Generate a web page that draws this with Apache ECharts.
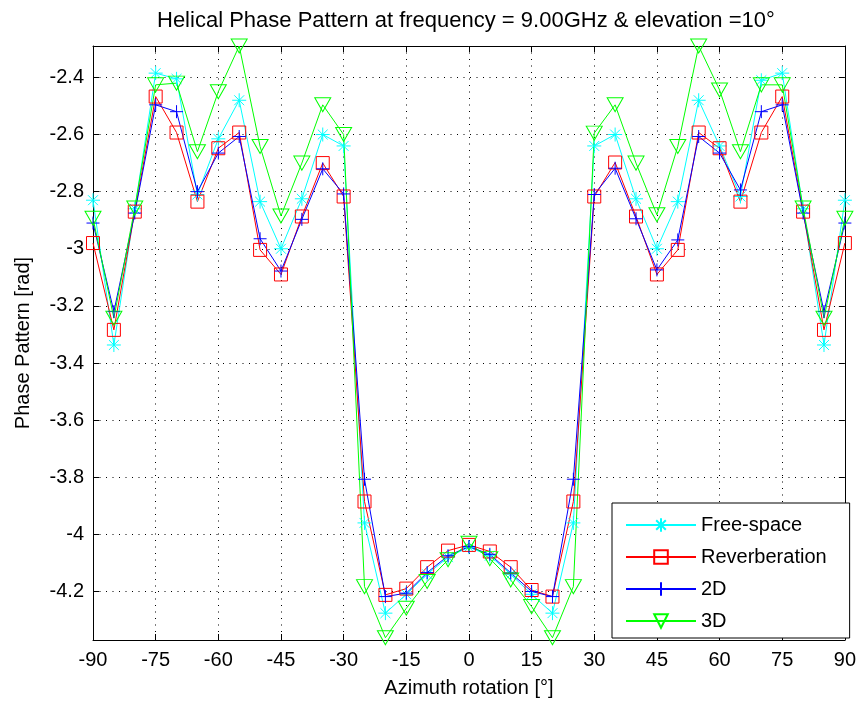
<!DOCTYPE html>
<html>
<head>
<meta charset="utf-8">
<script src="https://cdn.jsdelivr.net/npm/echarts@6/dist/echarts.min.js"></script>
<style>
  html, body { margin: 0; padding: 0; background: #ffffff; }
  #chart { width: 859px; height: 704px; }
</style>
</head>
<body>
<div id="chart"></div>
<script>
// Azimuth angles (degrees) where the phase was sampled
const azimuth = [-90, -85, -80, -75, -70, -65, -60, -55, -50, -45, -40, -35, -30, -25, -20, -15, -10, -5, 0,
                 5, 10, 15, 20, 25, 30, 35, 40, 45, 50, 55, 60, 65, 70, 75, 80, 85, 90];

// Phase pattern [rad] for each measurement environment
const freeSpace = [-2.83, -3.337, -2.86, -2.385, -2.405, -2.81, -2.615, -2.48, -2.835, -3.0, -2.825, -2.60, -2.64,
                   -3.96, -4.276, -4.21, -4.14, -4.08, -4.045, -4.075, -4.14, -4.21, -4.276, -3.96,
                   -2.64, -2.60, -2.825, -3.0, -2.835, -2.48, -2.64, -2.817, -2.41, -2.385, -2.86, -3.337, -2.83];
const reverberation = [-2.98, -3.284, -2.87, -2.467, -2.593, -2.835, -2.648, -2.593, -3.004, -3.09, -2.887, -2.70, -2.817,
                       -3.885, -4.212, -4.19, -4.115, -4.057, -4.037, -4.06, -4.115, -4.195, -4.218, -3.885,
                       -2.817, -2.698, -2.887, -3.09, -3.004, -2.593, -2.648, -2.835, -2.593, -2.467, -2.87, -3.284, -2.98];
const twoD = [-2.91, -3.22, -2.875, -2.496, -2.52, -2.80, -2.665, -2.607, -2.965, -3.078, -2.897, -2.72, -2.808,
              -3.807, -4.218, -4.206, -4.134, -4.075, -4.043, -4.07, -4.135, -4.2, -4.218, -3.807,
              -2.81, -2.718, -2.895, -3.074, -2.969, -2.607, -2.665, -2.794, -2.52, -2.496, -2.875, -3.22, -2.91];
const threeD = [-2.893, -3.243, -2.857, -2.426, -2.42, -2.66, -2.45, -2.29, -2.642, -2.885, -2.70, -2.496, -2.60,
                -4.183, -4.362, -4.259, -4.165, -4.089, -4.031, -4.085, -4.16, -4.253, -4.362, -4.183,
                -2.595, -2.496, -2.70, -2.881, -2.642, -2.29, -2.444, -2.66, -2.426, -2.426, -2.857, -3.243, -2.893];

// Tick positions
const yTicks = [-4.2, -4.0, -3.8, -3.6, -3.4, -3.2, -3.0, -2.8, -2.6, -2.4];
const yRange = [-4.37, -2.29];
const xRange = [-90, 90];
const xStep = 15;

const FONT = 'Liberation Sans, Arial, Helvetica, sans-serif';

// Marker outlines drawn as stroke-only paths
const SYM_STAR = 'path://M0,-10L0,10M-10,0L10,0M-7.07,-7.07L7.07,7.07M-7.07,7.07L7.07,-7.07';
const SYM_SQUARE = 'path://M-10,-10L10,-10L10,10L-10,10Z';
const SYM_PLUS = 'path://M0,-10L0,10M-10,0L10,0';
const SYM_TRI_DOWN = 'path://M-10,-8.66L10,-8.66L0,8.66Z';

function pairs(values) {
  return azimuth.map((a, i) => [a, values[i]]);
}

function makeSeries(name, values, color, symbol, size) {
  return {
    name: name,
    type: 'line',
    data: pairs(values),
    symbol: symbol,
    symbolSize: size,
    showAllSymbol: true,
    clip: false,
    lineStyle: { color: color, width: 1 },
    itemStyle: { color: 'rgba(0,0,0,0)', borderColor: color, borderWidth: 1 },
    emphasis: { disabled: true },
    z: 3
  };
}

const gridLine = { show: true, lineStyle: { color: '#000', width: 1, type: [1, 5.5] } };
const boxLine = { show: true, onZero: false, lineStyle: { color: '#000', width: 1 } };
const insideTick = { show: true, inside: true, length: 6, lineStyle: { color: '#000', width: 1 } };
const labelFont = { color: '#000', fontFamily: FONT, fontSize: 20 };

const chart = echarts.init(document.getElementById('chart'), null, { renderer: 'canvas' });
chart.setOption({
  animation: false,
  backgroundColor: '#ffffff',
  title: {
    text: 'Helical Phase Pattern at frequency = 9.00GHz & elevation =10°',
    left: 152,
    top: 5,
    textStyle: { color: '#000', fontFamily: FONT, fontSize: 22, fontWeight: 'normal' }
  },
  grid: { left: 93, right: 11, top: 46, bottom: 64, containLabel: false },
  legend: {
    orient: 'vertical',
    left: 612,
    top: 503,
    padding: [12, 23, 7, 13],
    itemWidth: 70,
    itemHeight: 17,
    itemGap: 12,
    backgroundColor: '#ffffff',
    borderColor: '#000',
    borderWidth: 1,
    textStyle: { color: '#000', fontFamily: FONT, fontSize: 20 },
    selectedMode: false,
    data: ['Free-space', 'Reverberation', '2D', '3D']
  },
  xAxis: [
    {
      type: 'value',
      min: xRange[0], max: xRange[1], interval: xStep,
      position: 'bottom',
      name: 'Azimuth rotation [°]',
      nameLocation: 'middle',
      nameGap: 38,
      nameTextStyle: labelFont,
      axisLine: boxLine,
      axisTick: insideTick,
      axisLabel: Object.assign({ margin: 10 }, labelFont),
      splitLine: gridLine
    },
    {
      type: 'value',
      min: xRange[0], max: xRange[1], interval: xStep,
      position: 'top',
      axisLine: boxLine,
      axisTick: insideTick,
      axisLabel: { show: false },
      splitLine: { show: false }
    }
  ],
  yAxis: [
    {
      type: 'value',
      min: yRange[0], max: yRange[1],
      position: 'left',
      name: 'Phase Pattern [rad]',
      nameLocation: 'middle',
      nameGap: 60,
      nameTextStyle: labelFont,
      axisLine: boxLine,
      axisTick: Object.assign({ customValues: yTicks }, insideTick),
      axisLabel: Object.assign({ customValues: yTicks, margin: 9, formatter: v => String(+v.toFixed(1)) }, labelFont),
      splitLine: Object.assign({ customValues: yTicks }, gridLine)
    },
    {
      type: 'value',
      min: yRange[0], max: yRange[1],
      position: 'right',
      axisLine: boxLine,
      axisTick: Object.assign({ customValues: yTicks }, insideTick),
      axisLabel: { show: false, customValues: yTicks },
      splitLine: { show: false }
    }
  ],
  series: [
    makeSeries('Free-space', freeSpace, '#00ffff', SYM_STAR, 14),
    makeSeries('Reverberation', reverberation, '#ff0000', SYM_SQUARE, 13),
    makeSeries('2D', twoD, '#0000ff', SYM_PLUS, 13),
    makeSeries('3D', threeD, '#00ff00', SYM_TRI_DOWN, [16, 14])
  ]
});
</script>
</body>
</html>
